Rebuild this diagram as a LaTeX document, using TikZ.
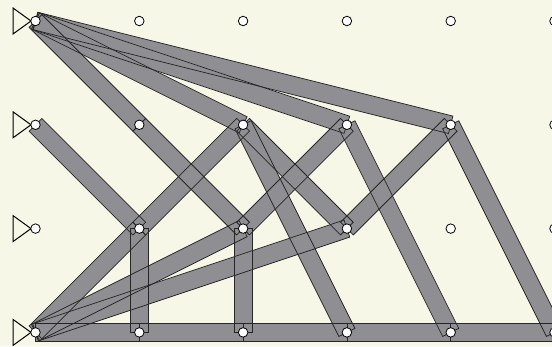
\documentclass[tikz,border=0pt]{standalone}
\usetikzlibrary{calc}
\definecolor{bg}{RGB}{247,247,232}
\definecolor{bargray}{RGB}{143,143,147}
\begin{document}
\begin{tikzpicture}[x=1pt,y=-1pt,
  joint/.style={circle,draw=black,fill=white,line width=0.8pt,inner sep=0pt,minimum size=9.5pt},
  supportline/.style={draw=black,line width=1pt,line join=miter},
  barfill/.style={fill=bargray},
  barline/.style={draw=black!85,line width=0.75pt}]
\fill[bg] (0,0) rectangle (552,346);
\useasboundingbox (0,0) rectangle (552,346);
\clip (0,0) rectangle (552,346);
\foreach \i in {0,...,5} \foreach \j in {0,...,3}
  \coordinate (p\i\j) at ({35.5+103.8*\i},{21+103.8*\j});
\def\barlist{p00/p11, p11/p22, p00/p21, p00/p31, p00/p41, p01/p12, p12/p21,
  p03/p12, p12/p13, p22/p23, p22/p31, p03/p22, p21/p32, p21/p33, p32/p41,
  p03/p32, p31/p43, p41/p53, p03/p13, p13/p23, p23/p33, p33/p43, p43/p53}
% fills
\foreach \a/\b in \barlist {
  \fill[barfill] ($(\a)!9pt!90:(\b)$) -- ($(\b)!9pt!-90:(\a)$) -- ($(\b)!9pt!90:(\a)$) -- ($(\a)!9pt!-90:(\b)$) -- cycle;
}
% outlines
\foreach \a/\b in \barlist {
  \draw[barline] ($(\a)!9pt!90:(\b)$) -- ($(\b)!9pt!-90:(\a)$) -- ($(\b)!9pt!90:(\a)$) -- ($(\a)!9pt!-90:(\b)$) -- cycle;
}
% supports
\foreach \j in {0,...,3}
  \draw[supportline] ($(p0\j)+(-22.5,-13)$) -- ($(p0\j)+(-4.5,0)$) -- ($(p0\j)+(-22.5,13)$) -- cycle;
% joints
\foreach \i in {0,...,5} \foreach \j in {0,...,3}
  \node[joint] (n\i\j) at (p\i\j) {};
\end{tikzpicture}
\end{document}
